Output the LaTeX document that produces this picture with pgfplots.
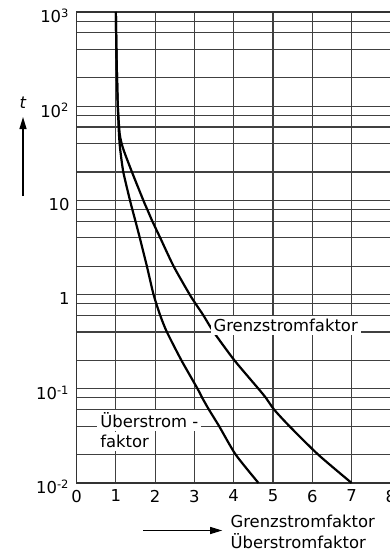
\documentclass[border=0pt]{standalone}
\usepackage{fontspec}
\setmainfont{DejaVu Sans}
\usepackage{pgfplots}
\pgfplotsset{compat=1.18}
\usetikzlibrary{arrows.meta}

\newcommand{\lblfont}{\fontsize{8.2}{9.5}\selectfont}

\begin{document}
\begin{tikzpicture}
\begin{axis}[
  scale only axis, width=157pt, height=235.25pt,
  ymode=log, xmin=0, xmax=8, ymin=0.01, ymax=1000,
  xtick={0,1,2,3,4,5,6,7,8}, xticklabels={0,1,2,3,4,5,6,7,8},
  ytick={0.01,0.1,1,10,100,1000},
  yticklabels={10\textsuperscript{-2},10\textsuperscript{-1},1,10,10\textsuperscript{2},10\textsuperscript{3}},
  minor ytick={0.02,0.04,0.06,0.08,0.2,0.4,0.6,0.8,2,4,6,8,20,40,60,80,200,400,600,800},
  grid=both,
  major grid style={black!75, line width=0.6pt},
  minor grid style={black!75, line width=0.6pt},
  axis line style={black!80, line width=0.7pt},
  major tick length=0pt, minor tick length=0pt,
  tick label style={font=\lblfont},
  yticklabel style={yshift=-2pt},
  clip=false,
]
% Ueberstromfaktor
\addplot[black, line width=1.1pt, smooth, tension=0.4] coordinates {
(1.00,1000) (1.01,500) (1.03,200) (1.05,100) (1.08,50) (1.11,35) (1.19,20)
(1.36,10) (1.42,8) (1.50,6) (1.61,4) (1.79,2) (1.96,1) (2.13,0.6) (2.30,0.4)
(2.67,0.2) (3.08,0.1) (3.20,0.08) (3.37,0.06) (3.63,0.04) (4.05,0.02) (4.63,0.01)
};
% Grenzstromfaktor
\addplot[black, line width=1.1pt, smooth, tension=0.4] coordinates {
(1.00,1000) (1.01,500) (1.03,200) (1.05,100) (1.10,50) (1.19,35) (1.41,20)
(1.70,10) (1.80,8) (1.93,6) (2.13,4) (2.47,2) (2.88,1) (3.03,0.8) (3.23,0.6)
(3.49,0.4) (4.02,0.2) (4.63,0.1) (4.82,0.08) (5.03,0.06) (5.42,0.04) (6.15,0.02) (7.00,0.01)
};
\node[anchor=west, fill=white, inner xsep=1.5pt, inner ysep=1.5pt, font=\lblfont]
  at (axis cs:3.40,0.472) {Grenzstromfaktor};
\node[anchor=west, fill=white, inner xsep=1.5pt, inner ysep=1.5pt, font=\lblfont]
  at (axis cs:0.52,0.0461) {Überstrom -};
\node[anchor=west, fill=white, inner xsep=1.5pt, inner ysep=1.5pt, font=\lblfont]
  at (axis cs:0.52,0.0276) {faktor};
% axis labels
\draw[line width=0.6pt, -{Triangle[length=6pt,width=3.5pt]}]
  (rel axis cs:-0.1704,0.609) -- (rel axis cs:-0.1704,0.777);
\node[font=\lblfont] at (rel axis cs:-0.1704,0.807) {\textit{t}};
\draw[line width=0.6pt, -{Triangle[length=6pt,width=3.5pt]}]
  (rel axis cs:0.2118,-0.101) -- (rel axis cs:0.4634,-0.101);
\node[anchor=base west, inner sep=0pt, font=\lblfont] at (rel axis cs:0.4889,-0.0946) {Grenzstromfaktor};
\node[anchor=base west, inner sep=0pt, font=\lblfont] at (rel axis cs:0.4889,-0.139) {Überstromfaktor};
\coordinate (bbsw) at (rel axis cs:-0.2436,-0.1509);
\coordinate (bbne) at (rel axis cs:0.9971,1.0255);
\end{axis}
\pgfresetboundingbox
\useasboundingbox (bbsw) rectangle (bbne);
\end{tikzpicture}
\end{document}
